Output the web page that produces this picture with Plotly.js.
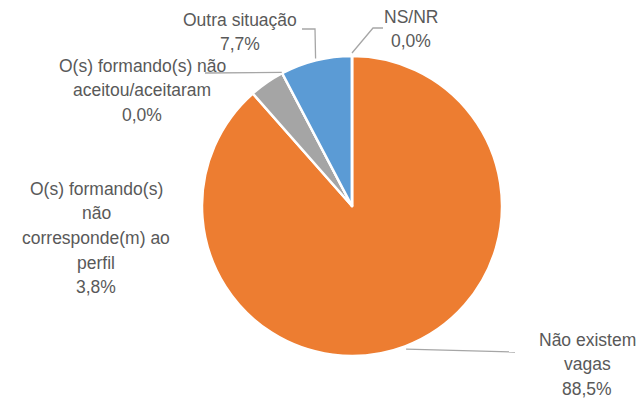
<!DOCTYPE html>
<html>
<head>
<meta charset="utf-8">
<script src="https://cdn.plot.ly/plotly-3.0.1.min.js"></script>
<style>html,body{margin:0;padding:0;background:#fff}#chart{width:641px;height:400px}</style>
</head>
<body>
<div id="chart"></div>
<script>
// Data
const categories = [
  "Não existem vagas",
  "O(s) formando(s) não corresponde(m) ao perfil",
  "O(s) formando(s) não aceitou/aceitaram",
  "Outra situação",
  "NS/NR"
];
const values = [88.5, 3.8, 0.0, 7.7, 0.0];
const valueLabels = ["88,5%", "3,8%", "0,0%", "7,7%", "0,0%"];
const labelLines = [
  ["Não existem", "vagas"],
  ["O(s) formando(s)", "não", "corresponde(m) ao", "perfil"],
  ["O(s) formando(s) não", "aceitou/aceitaram"],
  ["Outra situação"],
  ["NS/NR"]
];
const colors = ["#ED7D31", "#A5A5A5", "#A5A5A5", "#5B9BD5", "#4472C4"];

// Layout geometry
const W = 641, H = 400;
const CX = 352, CY = 206, R = 150;
const LINE = 24.5;
const FONT = {family: "'Liberation Sans', Arial, sans-serif", size: 17.5, color: "#595959"};

// label block centres (pixels)
const labelPos = [
  {x: 587, y: 364},
  {x: 96, y: 238},
  {x: 142, y: 90},
  {x: 240, y: 32},
  {x: 411, y: 29}
];

// angles (deg, clockwise from 12 o'clock) from data
const total = values.reduce((a, b) => a + b, 0);
const starts = [], mids = [];
let acc = 0;
values.forEach(v => { starts.push(acc / total * 360); mids.push((acc + v / 2) / total * 360); acc += v; });
function pt(a, r) { const t = a * Math.PI / 180; return [CX + r * Math.sin(t), CY - r * Math.cos(t)]; }
function px(x) { return x / W; }
function py(y) { return 1 - y / H; }

const leaders = [
  {tip: pt(mids[0], 153), route: [[515, 352]]},
  {tip: pt(starts[2], 151), route: [[205, 73]]},
  {tip: pt(mids[3], 152), route: [[315, 29], [302, 29]]},
  {tip: pt(starts[4] + 360 * values[4] / total, 153), route: [[373, 28], [383, 28]]}
];
const shapes = leaders.map(l => {
  const pts = [l.tip].concat(l.route);
  const d = pts.map((p, i) => (i ? "L" : "M") + px(p[0]).toFixed(5) + "," + py(p[1]).toFixed(5)).join(" ");
  return {type: "path", xref: "paper", yref: "paper", path: d, line: {color: "#A6A6A6", width: 1.3}};
});

const annotations = [];
categories.forEach((c, i) => {
  const lines = labelLines[i].concat([valueLabels[i]]);
  const y0 = labelPos[i].y - (lines.length - 1) * LINE / 2;
  lines.forEach((t, k) => {
    annotations.push({
      xref: "paper", yref: "paper",
      x: px(labelPos[i].x), y: py(y0 + k * LINE),
      xanchor: "center", yanchor: "middle", align: "center",
      showarrow: false, text: t, font: FONT
    });
  });
});

const trace = {
  type: "pie",
  labels: categories,
  values: values,
  sort: false,
  direction: "clockwise",
  rotation: 0,
  textinfo: "none",
  hoverinfo: "none",
  marker: {colors: colors, line: {color: "#FFFFFF", width: 2.5}},
  domain: {x: [(CX - R) / W, (CX + R) / W], y: [1 - (CY + R) / H, 1 - (CY - R) / H]}
};

Plotly.newPlot("chart", [trace], {
  width: W, height: H,
  margin: {l: 0, r: 0, t: 0, b: 0},
  showlegend: false,
  paper_bgcolor: "#FFFFFF",
  annotations: annotations,
  shapes: shapes
}, {displayModeBar: false, staticPlot: true});
</script>
</body>
</html>
